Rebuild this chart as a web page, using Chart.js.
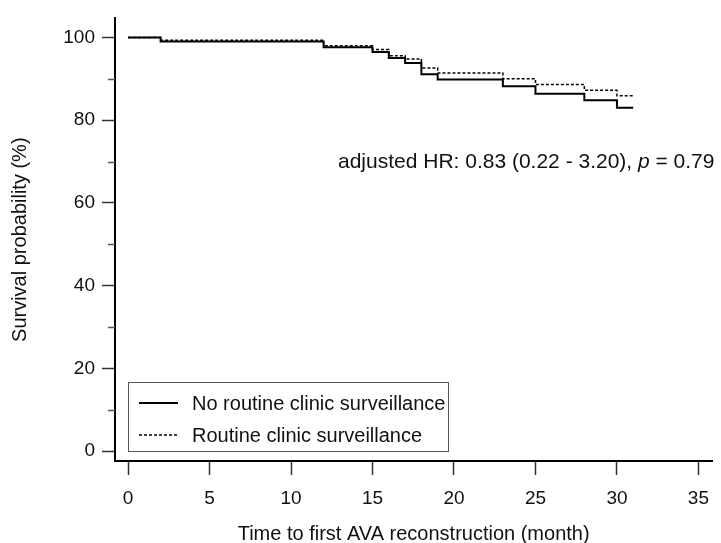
<!DOCTYPE html>
<html>
<head>
<meta charset="utf-8">
<script src="https://cdn.jsdelivr.net/npm/chart.js@4.4.1/dist/chart.umd.min.js"></script>
<style>
  html, body { margin: 0; padding: 0; background: #fff; }
  #wrap { width: 721px; height: 543px; }
</style>
</head>
<body>
<div id="wrap"><canvas id="kmChart" width="721" height="543"></canvas></div>
<script>
const eventMonths = [0, 2, 12, 15, 16, 17, 18, 19, 23, 25, 28, 30, 31];
const noRoutineSurvival = [100, 99.0, 97.6, 96.5, 95.0, 93.8, 91.1, 89.8, 88.2, 86.4, 84.8, 83.0, 83.0];
const routineSurvival = [100, 99.3, 98.0, 97.1, 95.6, 94.8, 92.6, 91.4, 90.0, 88.6, 87.2, 85.9, 85.9];

const seriesLabels = ["No routine clinic surveillance", "Routine clinic surveillance"];
const xTicks = [0, 5, 10, 15, 20, 25, 30, 35];
const yTicks = [0, 20, 40, 60, 80, 100];
const yMinorTicks = [10, 30, 50, 70, 90];
const annotationMain = "adjusted HR: 0.83 (0.22 - 3.20), ";
const annotationP = "p";
const annotationTail = " = 0.79";

const FONT = "'Liberation Sans', Arial, Helvetica, sans-serif";
const INK = "#111";

function toPoints(xs, ys) {
  return xs.map((x, i) => ({ x, y: ys[i] }));
}

const extrasPlugin = {
  id: "kmExtras",
  afterDraw(chart) {
    const ctx = chart.ctx;
    const area = chart.chartArea;
    const yScale = chart.scales.y;

    // minor ticks on the y axis
    ctx.save();
    ctx.strokeStyle = "#555";
    ctx.lineWidth = 1.5;
    for (const v of yMinorTicks) {
      const py = Math.round(yScale.getPixelForValue(v)) + 0.5;
      ctx.beginPath();
      ctx.moveTo(area.left - 7, py);
      ctx.lineTo(area.left, py);
      ctx.stroke();
    }
    ctx.restore();

    // legend box, bottom left inside the plot
    const boxLeft = area.left + 13.5;
    const boxTop = 382.5;
    const boxW = 320;
    const boxH = 69;
    ctx.save();
    ctx.strokeStyle = "#555";
    ctx.lineWidth = 1;
    ctx.strokeRect(boxLeft, boxTop, boxW, boxH);

    const rows = [
      { y: 403, dash: [], width: 2 },
      { y: 435, dash: [3, 2], width: 1.5 },
    ];
    ctx.font = `20px ${FONT}`;
    ctx.fillStyle = INK;
    ctx.textBaseline = "middle";
    ctx.textAlign = "left";
    rows.forEach((row, i) => {
      ctx.beginPath();
      ctx.setLineDash(row.dash);
      ctx.lineWidth = row.width;
      ctx.strokeStyle = "#000";
      ctx.moveTo(area.left + 24, row.y);
      ctx.lineTo(area.left + 63, row.y);
      ctx.stroke();
      ctx.setLineDash([]);
      ctx.fillText(seriesLabels[i], area.left + 77, row.y + 1);
    });
    ctx.restore();

    // hazard ratio note
    ctx.save();
    ctx.fillStyle = INK;
    ctx.textBaseline = "alphabetic";
    ctx.textAlign = "left";
    let tx = 338;
    const ty = 167.5;
    ctx.font = `21px ${FONT}`;
    ctx.fillText(annotationMain, tx, ty);
    tx += ctx.measureText(annotationMain).width;
    ctx.font = `italic 21px ${FONT}`;
    ctx.fillText(annotationP, tx, ty);
    tx += ctx.measureText(annotationP).width;
    ctx.font = `21px ${FONT}`;
    ctx.fillText(annotationTail, tx, ty);
    ctx.restore();
  },
};

new Chart(document.getElementById("kmChart"), {
  type: "line",
  data: {
    datasets: [
      {
        label: seriesLabels[0],
        data: toPoints(eventMonths, noRoutineSurvival),
        stepped: "before",
        borderColor: "#000",
        borderWidth: 2,
        pointRadius: 0,
        fill: false,
      },
      {
        label: seriesLabels[1],
        data: toPoints(eventMonths, routineSurvival),
        stepped: "before",
        borderColor: "#000",
        borderWidth: 1.5,
        borderDash: [3, 2],
        pointRadius: 0,
        fill: false,
      },
    ],
  },
  options: {
    responsive: false,
    animation: false,
    devicePixelRatio: 1,
    layout: { padding: { top: 14, right: 0, bottom: 0, left: 0 } },
    plugins: {
      legend: { display: false },
      tooltip: { enabled: false },
    },
    scales: {
      x: {
        type: "linear",
        min: -0.8,
        max: 35.85,
        afterBuildTicks: (scale) => {
          scale.ticks = xTicks.map((v) => ({ value: v }));
        },
        afterFit: (scale) => {
          scale.height = 82;
        },
        border: { display: true, color: "#000", width: 2 },
        grid: { display: true, drawOnChartArea: false, drawTicks: true, tickLength: 14, tickColor: "#333", tickWidth: 1.5 },
        ticks: {
          color: INK,
          font: { family: FONT, size: 19 },
          padding: 12,
          maxRotation: 0,
          autoSkip: false,
        },
        title: {
          display: true,
          text: "Time to first AVA reconstruction (month)",
          color: INK,
          font: { family: FONT, size: 20 },
          padding: { top: 0, bottom: -3 },
        },
      },
      y: {
        type: "linear",
        min: -2.4,
        max: 104.6,
        afterBuildTicks: (scale) => {
          scale.ticks = yTicks.map((v) => ({ value: v }));
        },
        afterFit: (scale) => {
          scale.width = 115;
        },
        border: { display: true, color: "#000", width: 2 },
        grid: { display: true, drawOnChartArea: false, drawTicks: true, tickLength: 13, tickColor: "#333", tickWidth: 1.5 },
        ticks: {
          color: INK,
          font: { family: FONT, size: 19 },
          padding: 7,
          autoSkip: false,
        },
        title: {
          display: true,
          text: "Survival probability (%)",
          color: INK,
          font: { family: FONT, size: 20 },
          padding: { top: 8, bottom: 0 },
        },
      },
    },
  },
  plugins: [extrasPlugin],
});
</script>
</body>
</html>
